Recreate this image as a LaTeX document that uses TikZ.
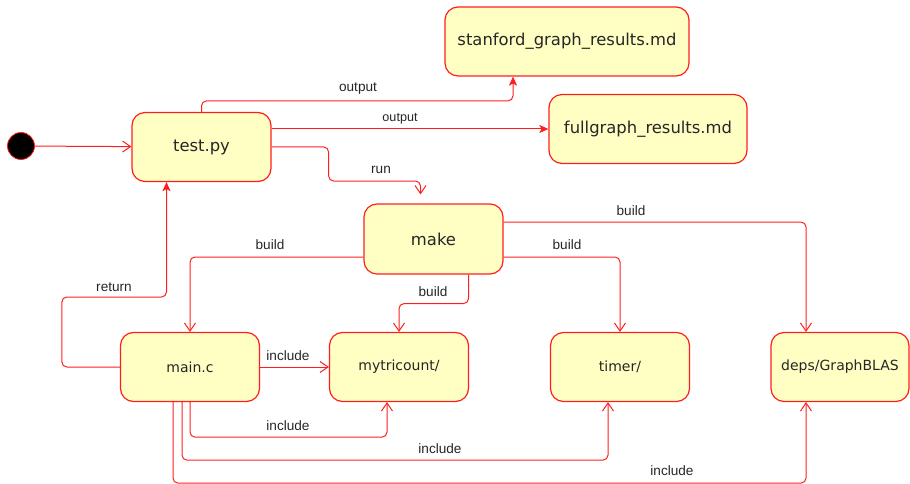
\documentclass[tikz,border=0pt]{standalone}
\usepackage{fontspec}
\setmainfont{DejaVu Sans}
\newfontfamily\lblfont{Liberation Sans}
\usetikzlibrary{arrows.meta,calc}
\definecolor{edgered}{RGB}{255,30,30}
\definecolor{statefill}{RGB}{255,255,196}
\tikzset{%
	state/.style    = {draw=edgered, fill=statefill, line width=1.2pt, rectangle,
		rounded corners=13pt, minimum width=139pt, minimum height=69pt,
		font=\fontsize{14}{16}\selectfont, text=black!85}, % State box
	bigstate/.style = {state, font=\fontsize{16.4}{18}\selectfont}, % Larger text
	startdot/.style = {draw=edgered, fill=black, circle, line width=0.8pt,
		minimum size=27pt, inner sep=0pt}, % Initial state
	lbl/.style      = {font=\lblfont\fontsize{13.6}{15}\selectfont, text=black!85,
		inner sep=0pt}, % Edge label
	link/.style     = {draw=edgered, line width=1pt, rounded corners=5pt},
	openarr/.style  = {link, -{Straight Barb[length=8pt,width=11pt]}},
	fillarr/.style  = {link, -{Stealth[length=9pt,width=8pt,inset=2pt]}}
}

\begin{document}
\begin{tikzpicture}[x=1pt,y=1pt]
	\useasboundingbox (0,0) rectangle (910,-484);

	\node[startdot] (start) at (21,-146) {};
	\node[bigstate] (test) at (201.5,-147) {test.py};
	\node[bigstate, minimum width=244pt] (stanford) at (567,-41.5) {stanford\_graph\_results.md};
	\node[bigstate, minimum width=198pt] (fullgraph) at (648,-129) {fullgraph\_results.md};
	\node[bigstate, minimum height=70pt] (make) at (433.5,-239) {make};
	\node[state] (main) at (190,-367) {main.c};
	\node[state] (mytri) at (399,-367) {mytricount/};
	\node[state] (timer) at (620,-367) {timer/};
	\node[state, minimum width=138pt] (deps) at (840,-367) {deps/GraphBLAS};

	% test.py and its outputs
	\draw[openarr] (start) -- (test);
	\draw[fillarr] (test.north) -- ++(0,11) -| ([xshift=-54pt]stanford.south);
	\draw[fillarr] (test.east |- fullgraph.west) -- (fullgraph.west);
	\draw[openarr, shorten >=9pt] (test.east) -| ++(57,-34) -| ([xshift=-13pt]make.north);
	\node[lbl] (lout1) at (358,-89) {output};
	\node[lbl, font=\lblfont\fontsize{12.6}{14}\selectfont] (lout2) at (400,-119) {output};
	\node[lbl] (lrun) at (381,-170) {run};

	% make builds
	\draw[openarr] ([yshift=-18pt]make.west) -| (main.north);
	\draw[openarr] ([xshift=35pt]make.south) -- ++(0,-29) -| (mytri.north);
	\draw[openarr] ([yshift=-18pt]make.east) -| (timer.north);
	\draw[openarr] ([yshift=17pt]make.east) -| ([xshift=-34pt]deps.north);
	\node[lbl] (lbmain) at (270,-245) {build};
	\node[lbl] (lbmytri) at (433,-292) {build};
	\node[lbl] (lbtimer) at (567,-245) {build};
	\node[lbl] (lbdeps) at (631,-211) {build};

	% main.c back to test.py
	\draw[fillarr] (main.west) -| ++(-58,70) -| ([xshift=-35pt]test.south);
	\node[lbl] (lret) at (114,-287) {return};

	% main.c includes
	\draw[openarr] (main.east) -- (mytri.west);
	\draw[openarr] (main.south) -- ++(0,-35) -| ([xshift=-12pt]mytri.south);
	\draw[openarr] ([xshift=-8pt]main.south) -- ++(0,-58) -| ([xshift=-12pt]timer.south);
	\draw[openarr] ([xshift=-17pt]main.south) -- ++(0,-81) -| ([xshift=-34pt]deps.south);
	\node[lbl] (linc1) at (288,-356) {include};
	\node[lbl] (linc2) at (288,-426) {include};
	\node[lbl] (linc3) at (440,-449) {include};
	\node[lbl] (linc4) at (672,-471) {include};
\end{tikzpicture}
\end{document}
